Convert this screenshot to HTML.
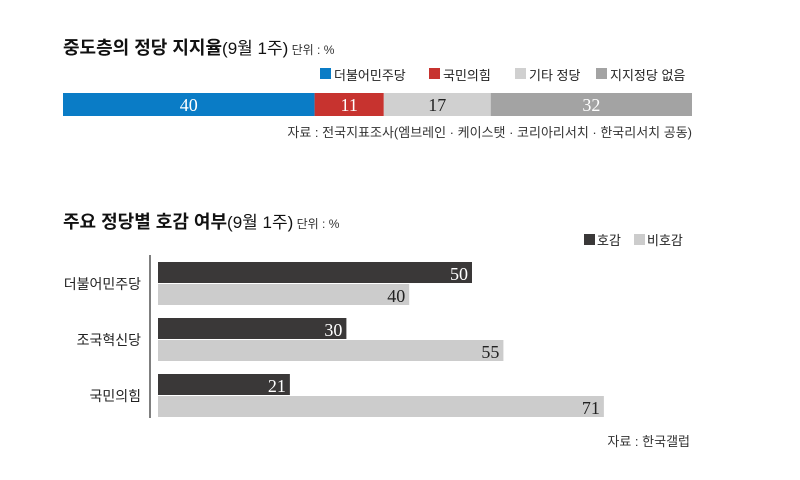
<!DOCTYPE html>
<html><head><meta charset="utf-8"><style>
body{margin:0;background:#fff;width:800px;height:475px;overflow:hidden;font-family:"Liberation Sans","Noto Sans CJK KR",sans-serif;}
</style></head><body>
<svg width="800" height="475" xmlns="http://www.w3.org/2000/svg" id="svg">
<text x="63" y="54" font-size="18" font-weight="bold" fill="#111" font-family="Liberation Sans, Noto Sans CJK KR, sans-serif">중도층의 정당 지지율<tspan font-weight="normal" font-size="17">(9월 1주)</tspan><tspan font-weight="normal" font-size="12" fill="#333"> 단위 : %</tspan></text>
<g id="legend1"></g>
<g id="stack"></g>
<text x="692" y="137" font-size="13" text-anchor="end" fill="#333" font-family="Liberation Sans, Noto Sans CJK KR, sans-serif">자료 : 전국지표조사(엠브레인 · 케이스탯 · 코리아리서치 · 한국리서치 공동)</text>
<text x="63" y="228" font-size="18" font-weight="bold" fill="#111" font-family="Liberation Sans, Noto Sans CJK KR, sans-serif">주요 정당별 호감 여부<tspan font-weight="normal" font-size="17">(9월 1주)</tspan><tspan font-weight="normal" font-size="12" fill="#333"> 단위 : %</tspan></text>
<g font-family="Liberation Sans, Noto Sans CJK KR, sans-serif" font-size="13" fill="#222">
<rect x="584" y="234" width="11" height="11" fill="#3a3838"/>
<text x="597" y="245">호감</text>
<rect x="634" y="234" width="11" height="11" fill="#cccccc"/>
<text x="647" y="245">비호감</text>
</g>
<line x1="150" y1="255" x2="150" y2="418" stroke="#555" stroke-width="1.5"/>
<g id="bars"></g>
<text x="690" y="446" font-size="13" text-anchor="end" fill="#333" font-family="Liberation Sans, Noto Sans CJK KR, sans-serif">자료 : 한국갤럽</text>
</svg>
<script>
const stackLabels=["더불어민주당","국민의힘","기타 정당","지지정당 없음"];
const stackValues=[40,11,17,32];
const stackColors=["#0a7cc6","#c7332f","#d0d0d0","#a3a3a3"];
const stackTextColors=["#fff","#fff","#222","#fff"];
const parties=["더불어민주당","조국혁신당","국민의힘"];
const favorable=[50,30,21];
const unfavorable=[40,55,71];
const NS="http://www.w3.org/2000/svg";
function mk(tag,attrs,parent){const e=document.createElementNS(NS,tag);for(const k in attrs)e.setAttribute(k,attrs[k]);parent.appendChild(e);return e;}
const sx=v=>v*(692-63)/100;
const st=document.getElementById('stack');
let x=63;
stackValues.forEach((v,i)=>{
 const r=mk('rect',{x:x,y:93,width:sx(v),height:23,fill:stackColors[i]},st);
 
 
 const t=mk('text',{x:x+sx(v)/2,y:111,'text-anchor':'middle','font-size':18,fill:stackTextColors[i],'font-family':'Liberation Serif, serif'},st);
 t.textContent=v;
 
 
 x+=sx(v);
});
const lg=document.getElementById('legend1');
const lx=[320,429,515,596];
stackLabels.forEach((l,i)=>{
 const r=mk('rect',{x:lx[i],y:68,width:11,height:11,fill:stackColors[i]},lg);
 
 
 const t=mk('text',{x:lx[i]+14,y:80,'font-size':13,fill:'#222','font-family':'Liberation Sans, Noto Sans CJK KR, sans-serif'},lg);
 t.textContent=l;
 
 
});
const bg=document.getElementById('bars');
const bx=v=>v*6.28;
parties.forEach((p,i)=>{
 const y0=262+i*56;
 const r1=mk('rect',{x:158,y:y0,width:bx(favorable[i]),height:21,fill:'#3a3838'},bg);
 
 
 const t1=mk('text',{x:158+bx(favorable[i])-4,y:y0+18,'text-anchor':'end','font-size':18,fill:'#fff','font-family':'Liberation Serif, serif'},bg);
 t1.textContent=favorable[i];
 
 
 const r2=mk('rect',{x:158,y:y0+22,width:bx(unfavorable[i]),height:21,fill:'#cccccc'},bg);
 
 
 const t2=mk('text',{x:158+bx(unfavorable[i])-4,y:y0+40,'text-anchor':'end','font-size':18,fill:'#222','font-family':'Liberation Serif, serif'},bg);
 t2.textContent=unfavorable[i];
 
 
 const lt=mk('text',{x:141,y:y0+27,'text-anchor':'end','font-size':14,fill:'#222','font-family':'Liberation Sans, Noto Sans CJK KR, sans-serif'},bg);
 lt.textContent=p;
 
 
});
</script>
</body></html>
